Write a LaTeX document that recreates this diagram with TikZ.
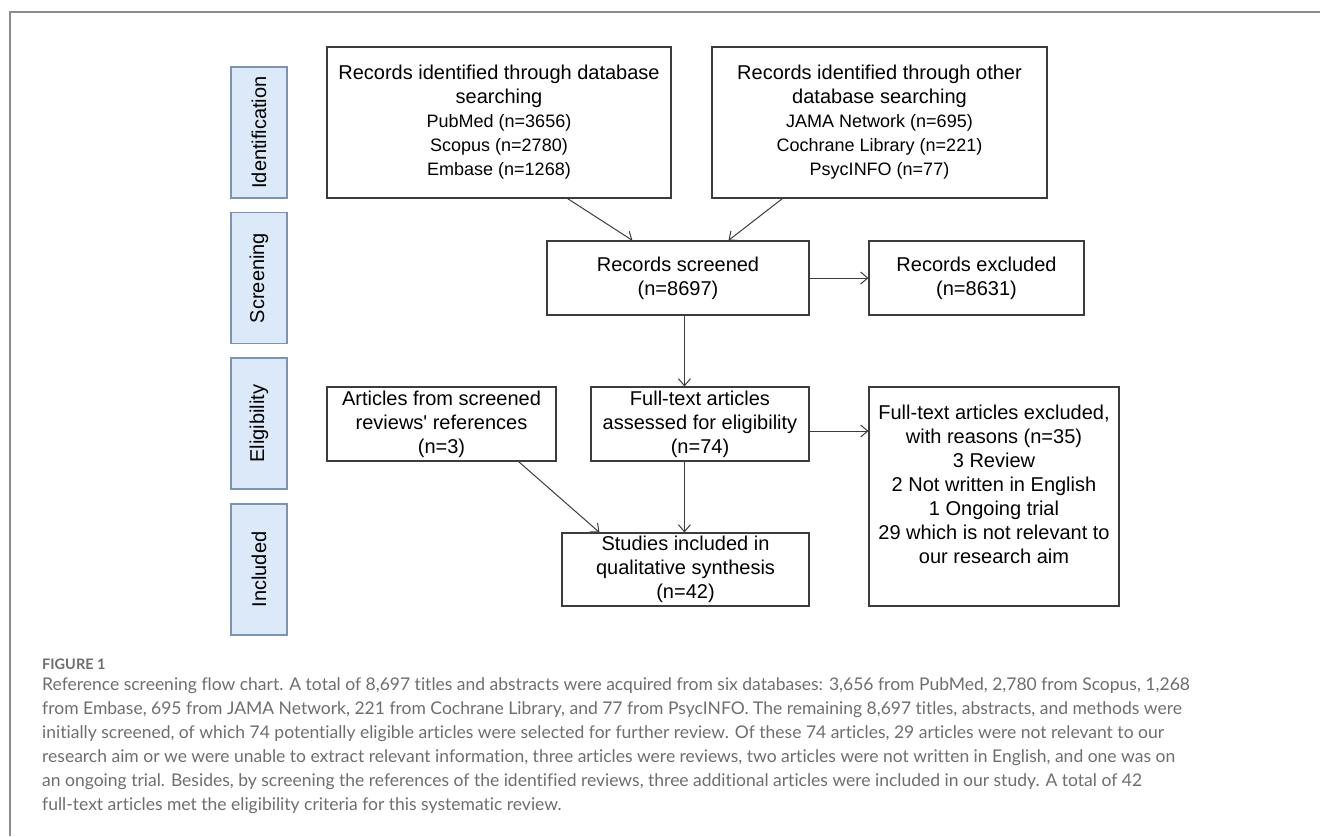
\documentclass[tikz,border=0pt]{standalone}
\usepackage{fontspec}
\setmainfont{Liberation Sans}
\newfontfamily\capfont[RawFeature={-liga;-clig;-calt;-dlig}]{Lato}
\usetikzlibrary{arrows.meta}

\definecolor{phasefill}{HTML}{DCE9F8}
\definecolor{phaseline}{HTML}{7D93B2}
\definecolor{boxline}{HTML}{3C3C3C}
\definecolor{capgray}{HTML}{6E6E6E}
\definecolor{framegray}{HTML}{8C8C8C}

\tikzset{
  flowbox/.style={draw=boxline, line width=1.1pt, align=center, inner sep=0pt,
    font=\fontsize{20}{24}\selectfont},
  phase/.style={draw=phaseline, fill=phasefill, line width=1.1pt, rotate=90,
    minimum width=131pt, minimum height=56pt, inner sep=0pt,
    font=\fontsize{20}{24}\selectfont},
  arr/.style={draw=boxline, line width=1pt, -{Straight Barb[length=7pt,width=12pt]}},
}
\newcommand{\subline}[1]{{\fontsize{18}{21}\selectfont #1}}

\begin{document}
\begin{tikzpicture}[x=1pt,y=-1pt]
  \useasboundingbox (0,0) rectangle (1320,836);
  \draw[framegray, line width=1.5pt] (10,836) -- (10,12) -- (1320,12);

  % phases
  \node[phase] (ident) at (259,132.5) {Identification};
  \node[phase] (screen) at (259,278) {Screening};
  \node[phase] (elig) at (259,423.5) {Eligibility};
  \node[phase] (incl) at (259,569.5) {Included};

  % identification
  \node[flowbox, minimum width=344pt, minimum height=151pt] (dbsearch) at (499,122.5)
    {Records identified through database\\searching\\\subline{PubMed (n=3656)}\\
     \subline{Scopus (n=2780)}\\\subline{Embase (n=1268)}};
  \node[flowbox, minimum width=335pt, minimum height=151pt] (othersearch) at (879.5,122.5)
    {Records identified through other\\database searching\\\subline{JAMA Network (n=695)}\\
     \subline{Cochrane Library (n=221)}\\\subline{PsycINFO (n=77)}};

  % screening
  \node[flowbox, minimum width=262pt, minimum height=74pt] (screened) at (678,278)
    {Records screened\\(n=8697)};
  \node[flowbox, minimum width=215pt, minimum height=74pt] (recexcl) at (976.5,278)
    {Records excluded\\(n=8631)};

  % eligibility
  \node[flowbox, minimum width=229pt, minimum height=74pt] (articles) at (441.5,424)
    {Articles from screened\\reviews\textquotesingle{} references\\(n=3)};
  \node[flowbox, minimum width=218pt, minimum height=74pt] (fulltext) at (700,424)
    {Full-text articles\\assessed for eligibility\\(n=74)};
  \node[flowbox, minimum width=250pt, minimum height=219pt] (ftexcl) at (994,496.5)
    {Full-text articles excluded,\\with reasons (n=35)\\3 Review\\2 Not written in English\\
     1 Ongoing trial\\29 which is not relevant to\\our research aim\\\mbox{}};

  % included
  \node[flowbox, minimum width=247pt, minimum height=73pt] (studies) at (685.5,569.5)
    {Studies included in\\qualitative synthesis\\(n=42)};

  % arrows
  \draw[arr] ([xshift=-104pt]dbsearch.south east) -- ([xshift=86pt]screened.north west);
  \draw[arr] ([xshift=71pt]othersearch.south west) -- ([xshift=182pt]screened.north west);
  \draw[arr] (screened.east) -- (recexcl.west);
  \draw[arr] ([xshift=138pt]screened.south west) -- ([xshift=94pt]fulltext.north west);
  \draw[arr] ([yshift=-7pt]fulltext.east) -- ([yshift=-7pt]fulltext.east -| ftexcl.west);
  \draw[arr] ([xshift=94pt]fulltext.south west) -- ([xshift=123pt]studies.north west);
  \draw[arr] ([xshift=-38pt]articles.south east) -- ([xshift=38pt]studies.north west);

  % caption
  \node[anchor=west, inner sep=0pt, text=capgray,
    font=\capfont\bfseries\fontsize{14.5}{17}\selectfont] (figlabel) at (42,664) {FIGURE 1};
  \node[anchor=north west, inner sep=0pt, align=left, text=capgray,
    font=\capfont\fontsize{17.5}{24}\selectfont] (caption) at (42,677)
    {Reference screening flow chart. A total of 8,697 titles and abstracts were acquired from six databases: 3,656 from PubMed, 2,780 from Scopus, 1,268\\
     from Embase, 695 from JAMA Network, 221 from Cochrane Library, and 77 from PsycINFO. The remaining 8,697 titles, abstracts, and methods were\\
     initially screened, of which 74 potentially eligible articles were selected for further review. Of these 74 articles, 29 articles were not relevant to our\\
     research aim or we were unable to extract relevant information, three articles were reviews, two articles were not written in English, and one was on\\
     an ongoing trial. Besides, by screening the references of the identified reviews, three additional articles were included in our study. A total of 42\\
     full-text articles met the eligibility criteria for this systematic review.};
\end{tikzpicture}
\end{document}
